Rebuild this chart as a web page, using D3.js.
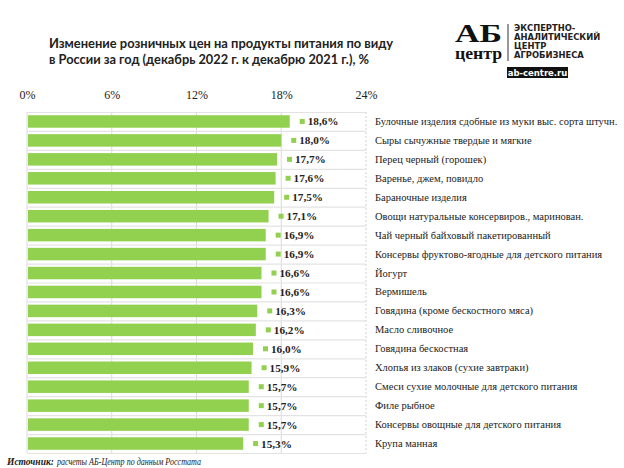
<!DOCTYPE html>
<html>
<head>
<meta charset="utf-8">
<title>chart</title>
<style>
  body { margin: 0; background: #fff; }
  svg { display: block; }
  .serif { font-family: "Liberation Serif", "DejaVu Serif", serif; }
</style>
</head>
<body>
<script src="https://cdn.jsdelivr.net/npm/d3@7"></script>
<script>
var categories = [
  "Булочные изделия сдобные из муки выс. сорта штучн.",
  "Сыры сычужные твердые и мягкие",
  "Перец черный (горошек)",
  "Варенье, джем, повидло",
  "Бараночные изделия",
  "Овощи натуральные консервиров., маринован.",
  "Чай черный байховый пакетированный",
  "Консервы фруктово-ягодные для детского питания",
  "Йогурт",
  "Вермишель",
  "Говядина (кроме бескостного мяса)",
  "Масло сливочное",
  "Говядина бескостная",
  "Хлопья из злаков (сухие завтраки)",
  "Смеси сухие молочные для детского питания",
  "Филе рыбное",
  "Консервы овощные для детского питания",
  "Крупа манная"
]
var values = [18.6, 18.0, 17.7, 17.6, 17.5, 17.1, 16.9, 16.9, 16.6, 16.6, 16.3, 16.2, 16.0, 15.9, 15.7, 15.7, 15.7, 15.3]
var tickValues = [0, 6, 12, 18, 24]

var width = 624
var height = 468
var green = "#92d050"

var svg = d3.select("body").append("svg")
  .attr("width", width)
  .attr("height", height)

// title
var title = svg.append("g")
  .style("font-family", "Lato, 'Open Sans', sans-serif")
  .style("font-weight", "bold")
  .style("font-size", "13.8px")
  .attr("fill", "#222")
title.append("text").attr("x", 49).attr("y", 48)
  .attr("textLength", 344).attr("lengthAdjust", "spacingAndGlyphs")
  .text("Изменение розничных цен на продукты питания по виду")
title.append("text").attr("x", 49).attr("y", 64)
  .attr("textLength", 320).attr("lengthAdjust", "spacingAndGlyphs")
  .text("в России за год (декабрь 2022 г. к декабрю 2021 г.), %")

// logo
var logo = svg.append("g")
logo.append("text").attr("class", "serif").attr("x", 455).attr("y", 42)
  .attr("textLength", 47).attr("lengthAdjust", "spacingAndGlyphs")
  .style("font-weight", "bold").style("font-size", "25px").attr("fill", "#111")
  .text("АБ")
logo.append("text").attr("class", "serif").attr("x", 455).attr("y", 59)
  .attr("textLength", 47).attr("lengthAdjust", "spacingAndGlyphs")
  .style("font-weight", "bold").style("font-size", "16px").attr("fill", "#111")
  .text("центр")
logo.append("line")
  .attr("x1", 508).attr("x2", 508).attr("y1", 24).attr("y2", 61)
  .attr("stroke", "#333").attr("stroke-width", 1)
var logoLines = ["ЭКСПЕРТНО-", "АНАЛИТИЧЕСКИЙ", "ЦЕНТР", "АГРОБИЗНЕСА"]
logo.selectAll("text.ll").data(logoLines).enter().append("text")
  .attr("class", "ll")
  .attr("x", 514)
  .attr("y", function(d, i) { return 31 + i * 9 })
  .style("font-family", "'DejaVu Sans', sans-serif")
  .style("font-weight", "bold")
  .style("font-size", "8.4px")
  .attr("fill", "#222")
  .text(function(d) { return d })
logo.append("rect")
  .attr("x", 507).attr("y", 67).attr("width", 61).attr("height", 11)
  .attr("fill", "#111")
logo.append("text").attr("x", 537.5).attr("y", 76)
  .attr("text-anchor", "middle")
  .style("font-family", "'DejaVu Sans', sans-serif").style("font-weight", "bold")
  .style("font-size", "8.5px").attr("fill", "#fff")
  .text("ab-centre.ru")

// scales
var x = d3.scaleLinear().domain([0, 24]).range([27, 366])
var y = d3.scaleBand().domain(categories).range([112, 453]).paddingInner(0.34).paddingOuter(0.17)
var step = y.step()

// frame and grid
var grid = svg.append("g")
grid.selectAll("line.v").data(tickValues.slice(1, 4)).enter().append("line")
  .attr("class", "v")
  .attr("x1", function(d) { return x(d) }).attr("x2", function(d) { return x(d) })
  .attr("y1", 112).attr("y2", 453)
  .attr("stroke", "#d9d9d9").attr("stroke-width", 1)
grid.append("line")
  .attr("x1", x(24)).attr("x2", x(24)).attr("y1", 112).attr("y2", 453)
  .attr("stroke", "#cfcfcf").attr("stroke-dasharray", "2,2")
grid.append("line")
  .attr("x1", x(0)).attr("x2", x(0)).attr("y1", 112).attr("y2", 453)
  .attr("stroke", "#d9d9d9")
var seps = d3.range(categories.length + 1)
grid.selectAll("line.h").data(seps).enter().append("line")
  .attr("class", "h")
  .attr("x1", x(0)).attr("x2", x(24))
  .attr("y1", function(d) { return 112 + d * step + 0.5 })
  .attr("y2", function(d) { return 112 + d * step + 0.5 })
  .attr("stroke", "#e3e3e3").attr("stroke-width", 1.2)

// axis labels at the top
var xAxis = d3.axisTop(x).tickValues(tickValues).tickSize(0)
  .tickFormat(function(d) { return d + "%" })
var ax = svg.append("g").attr("transform", "translate(0,102)").call(xAxis)
ax.select(".domain").remove()
ax.attr("font-family", null).attr("font-size", null)
ax.selectAll("text")
  .attr("class", "serif").style("font-size", "12px").attr("fill", "#222")

// bars
var rows = categories.map(function(c, i) { return { cat: c, val: values[i] } })
svg.selectAll("rect.bar").data(rows).enter().append("rect")
  .attr("class", "bar")
  .attr("x", x(0) + 1)
  .attr("y", function(d) { return y(d.cat) })
  .attr("width", function(d) { return x(d.val) - x(0) - 1 })
  .attr("height", y.bandwidth())
  .attr("fill", green)

// value labels with small marker
svg.selectAll("rect.mk").data(rows).enter().append("rect")
  .attr("class", "mk")
  .attr("x", function(d) { return x(d.val) + 10 })
  .attr("y", function(d) { return y(d.cat) + y.bandwidth() / 2 - 2.5 })
  .attr("width", 5).attr("height", 5)
  .attr("fill", green)
svg.selectAll("text.val").data(rows).enter().append("text")
  .attr("class", "val serif")
  .attr("x", function(d) { return x(d.val) + 18 })
  .attr("y", function(d) { return y(d.cat) + y.bandwidth() / 2 + 4 })
  .style("font-weight", "bold")
  .style("font-size", "11.2px").attr("fill", "#222")
  .text(function(d) { return d3.format(".1f")(d.val).replace(".", ",") + "%" })

// category labels
svg.selectAll("text.cat").data(rows).enter().append("text")
  .attr("class", "cat serif")
  .attr("x", 375)
  .attr("y", function(d) { return y(d.cat) + y.bandwidth() / 2 + 3.5 })
  .style("font-size", "10.5px").attr("fill", "#222")
  .text(function(d) { return d.cat })

// source
svg.append("text").attr("class", "serif").attr("x", 7).attr("y", 465)
  .style("font-style", "italic").style("font-weight", "bold")
  .style("font-size", "9.5px").attr("fill", "#222")
  .text("Источник:")
svg.append("text").attr("class", "serif").attr("x", 57).attr("y", 465)
  .attr("textLength", 144).attr("lengthAdjust", "spacingAndGlyphs")
  .style("font-style", "italic")
  .style("font-size", "9.5px").attr("fill", "#222")
  .text("расчеты АБ-Центр  по данным  Росстата")
</script>
</body>
</html>
